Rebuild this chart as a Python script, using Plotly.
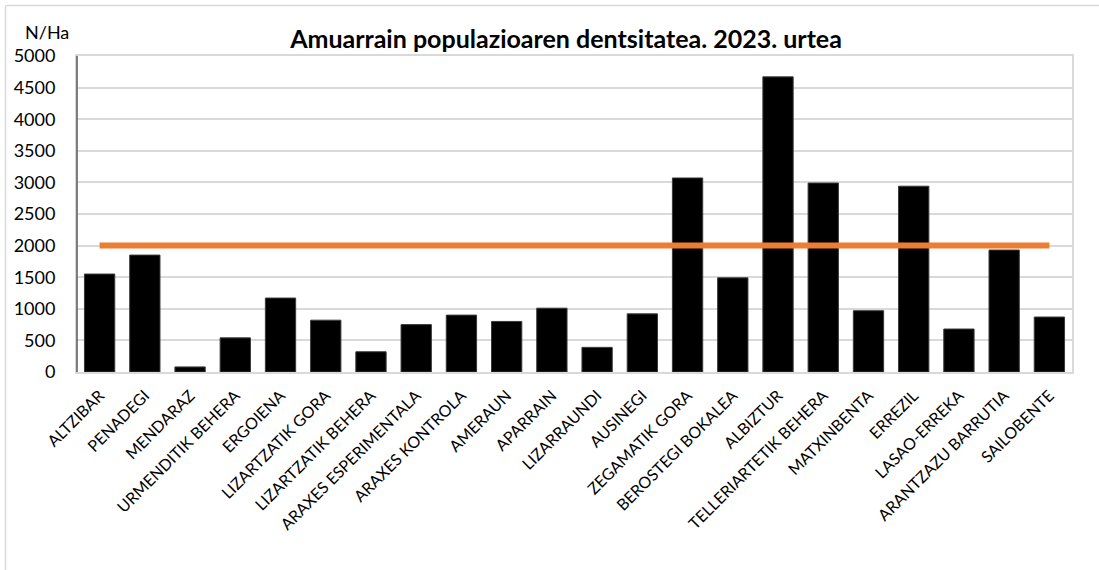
import plotly.graph_objects as go

categories = ["ALTZIBAR", "PENADEGI", "MENDARAZ", "URMENDITIK BEHERA", "ERGOIENA",
              "LIZARTZATIK GORA", "LIZARTZATIK BEHERA", "ARAXES ESPERIMENTALA",
              "ARAXES KONTROLA", "AMERAUN", "APARRAIN", "LIZARRAUNDI", "AUSINEGI",
              "ZEGAMATIK GORA", "BEROSTEGI BOKALEA", "ALBIZTUR", "TELLERIARTETIK BEHERA",
              "MATXINBENTA", "ERREZIL", "LASAO-ERREKA", "ARANTZAZU BARRUTIA", "SAILOBENTE"]
density = [1550, 1850, 80, 540, 1170, 820, 320, 750, 900, 800, 1010, 390, 920,
           3070, 1490, 4670, 2990, 970, 2940, 680, 1930, 870]
threshold = [2000] * len(categories)
y_ticks = [0, 500, 1000, 1500, 2000, 2500, 3000, 3500, 4000, 4500, 5000]

W, H = 1099, 570
L, R, T, B = 77, 1072, 56, 372

def px_x(p):
    return (p - L) / (R - L)

def px_y(p):
    return (B - p) / (B - T)

fig = go.Figure()
fig.add_trace(go.Bar(x=categories, y=density, marker=dict(color="#000000",
                     line=dict(color="#3a3a3a", width=1)), showlegend=False))
fig.add_trace(go.Scatter(x=categories, y=threshold, mode="lines",
                         line=dict(color="#ED7D31", width=6), showlegend=False))

fig.update_layout(
    width=W, height=H,
    margin=dict(l=L, r=W - R, t=T, b=H - B),
    paper_bgcolor="white", plot_bgcolor="white",
    bargap=0.33,
    font=dict(family="Lato", color="#000000"),
    title=dict(text="<b>Amuarrain populazioaren dentsitatea. 2023. urtea</b>",
               x=566 / W, xref="container", xanchor="center",
               y=1 - 39 / H, yref="container", yanchor="middle",
               font=dict(family="Lato", size=25, color="#000000")),
    xaxis=dict(tickangle=-45, tickfont=dict(size=16, color="#000000"),
               showline=True, linecolor="#D9D9D9", linewidth=2, mirror=True,
               ticks="", showgrid=False, ticklabelstandoff=6),
    yaxis=dict(range=[0, 5000], tickvals=y_ticks, tickfont=dict(size=18, color="#000000"),
               showgrid=True, gridcolor="#D9D9D9", gridwidth=1.5,
               showline=True, linecolor="#D9D9D9", linewidth=2, mirror=True,
               ticks="", ticklabelstandoff=16, zeroline=False),
    annotations=[dict(text="N/Ha", x=px_x(46.5), y=px_y(32), xref="paper", yref="paper",
                      showarrow=False, xanchor="center", yanchor="middle",
                      font=dict(family="Lato", size=18, color="#000000"))],
    shapes=[
        dict(type="line", xref="paper", yref="paper", x0=0, x1=0, y0=0, y1=1,
             line=dict(color="#595959", width=1.5)),
        dict(type="line", xref="paper", yref="paper", x0=px_x(5.5), x1=px_x(5.5),
             y0=px_y(5.5), y1=px_y(575), line=dict(color="#D9D9D9", width=1.5)),
        dict(type="line", xref="paper", yref="paper", x0=px_x(5.5), x1=px_x(1105),
             y0=px_y(5.5), y1=px_y(5.5), line=dict(color="#D9D9D9", width=1.5)),
    ],
)

fig.write_html("out.html", config={"displayModeBar": False},
               post_script="document.body.style.margin='0';document.body.style.overflow='hidden';")
